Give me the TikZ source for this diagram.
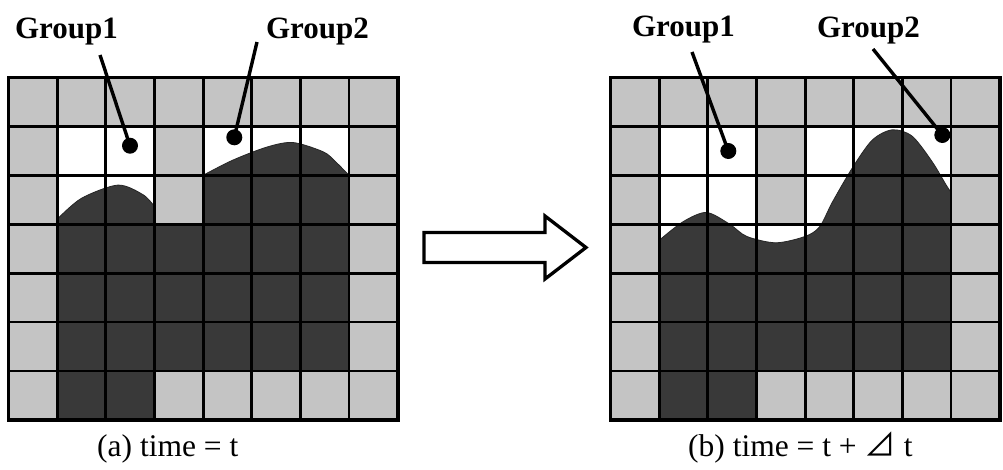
\documentclass[tikz,border=0pt]{standalone}
\usepackage{fontspec}
\setmainfont{Liberation Serif}
\newfontfamily\cjkfont{Noto Sans CJK JP}
\definecolor{cellgray}{HTML}{C4C4C4}
\definecolor{fluid}{HTML}{393939}
\tikzset{
  gridline/.style={line width=2.8pt, black},
  gridborder/.style={line width=3.6pt, black},
  surface/.style={line width=0.8pt, black!85},
  leader/.style={line width=3.4pt, black},
  dotmark/.style={circle, fill=black, inner sep=0pt, minimum size=16pt},
  grouplabel/.style={font=\bfseries\fontsize{31}{31}\selectfont, inner sep=0pt, anchor=base},
  captiontext/.style={font=\fontsize{31.5}{31.5}\selectfont, inner sep=0pt, anchor=base west},
  cellunits/.style={x=48.65pt, y=-48.9pt},
}
% white region of the container: cells that can hold fluid
\newcommand\containerpath{(1,1) -- (3,1) -- (3,3) -- (4,3) -- (4,1) -- (7,1) -- (7,6) -- (3,6) -- (3,7) -- (1,7) -- cycle}
\newcommand\gridlines{%
  \foreach \i in {1,...,7} \draw[gridline] (\i,0) -- (\i,7);
  \foreach \j in {1,...,6} \draw[gridline] (0,\j) -- (8,\j);
  \draw[gridborder] (0,0) rectangle (8,7);
}
\begin{document}
\begin{tikzpicture}[x=1pt, y=-1pt]
\useasboundingbox (0,0) rectangle (1003,469);

% ---- state (a): time = t ----
\begin{scope}[shift={(8.5,77.5)}, cellunits]
  \fill[cellgray] (0,0) rectangle (8,7);
  \fill[white] \containerpath;
  \fill[fluid] plot[smooth] coordinates {(1,2.9) (1.5,2.47) (2.25,2.2) (2.77,2.4) (3,2.64)}
     -- (3,3) -- (4,3)
     -- plot[smooth] coordinates {(4,2.0) (4.61,1.69) (5.32,1.42) (5.85,1.33) (6.47,1.52) (6.72,1.72) (7,2.0)}
     -- (7,6) -- (3,6) -- (3,7) -- (1,7) -- cycle;
  \draw[surface] plot[smooth] coordinates {(1,2.9) (1.5,2.47) (2.25,2.2) (2.77,2.4) (3,2.64)};
  \draw[surface] plot[smooth] coordinates {(4,2.0) (4.61,1.69) (5.32,1.42) (5.85,1.33) (6.47,1.52) (6.72,1.72) (7,2.0)};
  \gridlines
\end{scope}

% ---- state (b): time = t + dt ----
\begin{scope}[shift={(610.5,77.5)}, cellunits]
  \fill[cellgray] (0,0) rectangle (8,7);
  \fill[white] \containerpath;
  \fill[fluid] plot[smooth] coordinates {(1,3.33) (1.49,2.95) (1.97,2.76) (2.45,3.0) (2.8,3.25) (3.4,3.38) (4.0,3.25) (4.3,3.05) (4.56,2.55) (4.97,1.85) (5.38,1.28) (5.79,1.07) (6.2,1.2) (6.61,1.72) (6.9,2.2) (7,2.35)}
     -- (7,6) -- (3,6) -- (3,7) -- (1,7) -- cycle;
  \draw[surface] plot[smooth] coordinates {(1,3.33) (1.49,2.95) (1.97,2.76) (2.45,3.0) (2.8,3.25) (3.4,3.38) (4.0,3.25) (4.3,3.05) (4.56,2.55) (4.97,1.85) (5.38,1.28) (5.79,1.07) (6.2,1.2) (6.61,1.72) (6.9,2.2) (7,2.35)};
  \gridlines
\end{scope}

% ---- group labels and leaders ----
\node[grouplabel] (a1) at (66.5,38) {Group1};
\node[grouplabel] (a2) at (317.5,38) {Group2};
\node[grouplabel] (b1) at (683.5,36) {Group1};
\node[grouplabel] (b2) at (868.5,37) {Group2};

\coordinate (a1s) at (100,55);
\coordinate (a2s) at (257,42);
\coordinate (b1s) at (692,52);
\coordinate (b2s) at (873,49);

\node[dotmark] (a1d) at (130,145.7) {};
\node[dotmark] (a2d) at (234.3,137.3) {};
\node[dotmark] (b1d) at (728.3,151) {};
\node[dotmark] (b2d) at (942.3,135) {};

\draw[leader] (a1s) -- (a1d.center);
\draw[leader] (a2s) -- (a2d.center);
\draw[leader] (b1s) -- (b1d.center);
\draw[leader] (b2s) -- (b2d.center);

% ---- transition arrow ----
\draw[line width=3.3pt, line join=miter, fill=white]
  (424,232.5) -- (545,232.5) -- (545,216) -- (586,247.5) -- (545,279) -- (545,262.5) -- (424,262.5) -- cycle;

% ---- captions ----
\node[captiontext] (capa) at (97,456) {(a) time = t};
\node[captiontext] (capb) at (688,456) {(b) time = t + {\cjkfont ⊿} t};
\end{tikzpicture}
\end{document}
